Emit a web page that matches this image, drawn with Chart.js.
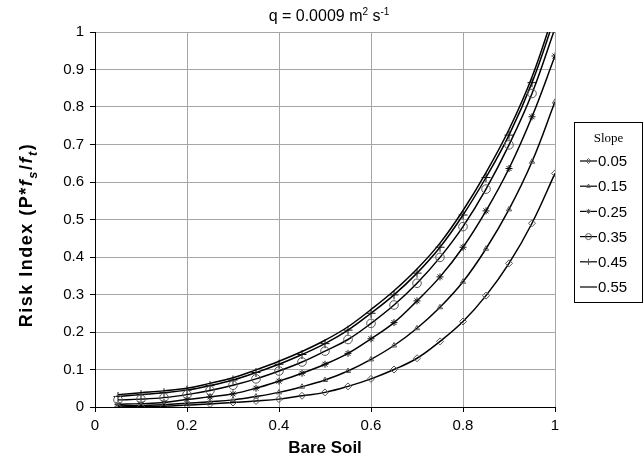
<!DOCTYPE html>
<html>
<head>
<meta charset="utf-8">
<script src="https://cdn.jsdelivr.net/npm/chart.js@4/dist/chart.umd.min.js"></script>
<style>
  html, body { margin: 0; padding: 0; background: #fff; }
  #wrap { width: 644px; height: 470px; }
</style>
</head>
<body>
<div id="wrap"><canvas id="chart1"></canvas></div>
<script>
// bare soil fraction (x)
var bareSoil = [0.05, 0.1, 0.15, 0.2, 0.25, 0.3, 0.35, 0.4, 0.45, 0.5,
                0.55, 0.6, 0.65, 0.7, 0.75, 0.8, 0.85, 0.9, 0.95, 1.0];
var slopes = ['0.05', '0.15', '0.25', '0.35', '0.45', '0.55'];

// risk index per slope
var s005 = [0, 0.001, 0.002, 0.005, 0.008, 0.012, 0.016, 0.021, 0.03, 0.039,
            0.055, 0.075, 0.10, 0.13, 0.175, 0.228, 0.297, 0.383, 0.49, 0.623];
var s015 = [0.003, 0.004, 0.006, 0.010, 0.014, 0.019, 0.028, 0.039, 0.054, 0.072,
            0.096, 0.127, 0.164, 0.21, 0.266, 0.334, 0.422, 0.527, 0.654, 0.814];
var s025 = [0.007, 0.009, 0.012, 0.02, 0.027, 0.035, 0.05, 0.069, 0.09, 0.114,
            0.143, 0.182, 0.225, 0.283, 0.347, 0.426, 0.523, 0.636, 0.774, 0.936];
var s035 = [0.019, 0.021, 0.025, 0.033, 0.044, 0.058, 0.075, 0.096, 0.12, 0.149,
            0.18, 0.223, 0.272, 0.33, 0.399, 0.481, 0.581, 0.699, 0.836, 1.01];
var s045 = [0.028, 0.033, 0.038, 0.045, 0.057, 0.072, 0.092, 0.114, 0.14, 0.169,
            0.205, 0.25, 0.299, 0.357, 0.426, 0.512, 0.612, 0.725, 0.865, 1.04];
var s055 = [0.033, 0.038, 0.043, 0.05, 0.063, 0.078, 0.099, 0.122, 0.148, 0.178,
            0.214, 0.26, 0.31, 0.368, 0.437, 0.524, 0.625, 0.74, 0.88, 1.06];

var yTicks = [0, 0.1, 0.2, 0.3, 0.4, 0.5, 0.6, 0.7, 0.8, 0.9, 1];
var xTicks = [0, 0.2, 0.4, 0.6, 0.8, 1];

var allSeries = [s005, s015, s025, s035, s045, s055];
var markers = ['rectRot', 'triangle', 'star', 'circle', 'cross', false];
var markerSize = [3.5, 3, 3.5, 4.3, 4.5, 0];

function pairs(ys) {
    return ys.map(function(v, i) { return { x: bareSoil[i], y: v }; });
}

var datasets = allSeries.map(function(ys, i) {
    return {
        label: slopes[i],
        data: pairs(ys),
        borderColor: '#000',
        borderWidth: 1.5,
        tension: 0.4,
        pointStyle: markers[i],
        pointRadius: markerSize[i],
        pointBorderColor: i === 4 || i === 2 ? '#111' : '#555',
        pointBackgroundColor: 'rgba(0,0,0,0)',
        pointBorderWidth: 1
    };
});

var FONT = '"Liberation Sans", Arial, sans-serif';

var decor = {
    id: 'decor',
    afterDraw: function(chart) {
        var ctx = chart.ctx;
        var area = chart.chartArea;
        ctx.save();
        ctx.fillStyle = '#000';

        // title with superscripts
        var parts = [['q = 0.0009 m', 0, 16], ['2', -6, 10], [' s', 0, 16], ['-1', -6, 10]];
        var total = 0;
        parts.forEach(function(p) { ctx.font = p[2] + 'px ' + FONT; total += ctx.measureText(p[0]).width; });
        var x = (area.left + area.right) / 2 - total / 2 + 4;
        ctx.textBaseline = 'alphabetic';
        parts.forEach(function(p) {
            ctx.font = p[2] + 'px ' + FONT;
            ctx.fillText(p[0], x, 21 + p[1]);
            x += ctx.measureText(p[0]).width;
        });

        // x axis title
        ctx.font = 'bold 17px ' + FONT;
        ctx.textAlign = 'center';
        ctx.fillText('Bare Soil', (area.left + area.right) / 2, 453);

        // y axis title, rotated, with italic f and subscripts
        var yparts = [['Risk Index (P*', 'bold', 0, 18], ['f', 'bold italic', 0, 18], ['s', 'bold italic', 5, 13],
                      ['/', 'bold', 0, 18], ['f', 'bold italic', 0, 18], ['t', 'bold italic', 5, 13], [')', 'bold', 0, 18]];
        ctx.textAlign = 'left';
        ctx.letterSpacing = '1.5px';
        var yw = 0;
        yparts.forEach(function(p) { ctx.font = p[1] + ' ' + p[3] + 'px ' + FONT; yw += ctx.measureText(p[0]).width; });
        ctx.translate(32, 235);
        ctx.rotate(-Math.PI / 2);
        var px = -yw / 2;
        yparts.forEach(function(p) {
            ctx.font = p[1] + ' ' + p[3] + 'px ' + FONT;
            ctx.fillText(p[0], px, p[2]);
            px += ctx.measureText(p[0]).width;
        });
        ctx.setTransform(1, 0, 0, 1, 0, 0);
        ctx.letterSpacing = '0px';

        // legend box
        var bx = 574, by = 122, bw = 69, bh = 181;
        ctx.fillStyle = '#fff';
        ctx.fillRect(bx, by, bw, bh);
        ctx.strokeStyle = '#000';
        ctx.lineWidth = 1;
        ctx.strokeRect(bx + 0.5, by + 0.5, bw - 1, bh - 1);
        ctx.fillStyle = '#000';
        ctx.font = '13px "Liberation Serif", "Times New Roman", serif';
        ctx.textAlign = 'center';
        ctx.textBaseline = 'middle';
        ctx.fillText('Slope', bx + bw / 2, 139);
        ctx.textAlign = 'left';
        slopes.forEach(function(s, i) {
            var ly = 161 + i * 25.2;
            ctx.strokeStyle = '#000';
            ctx.lineWidth = 1.2;
            ctx.beginPath();
            ctx.moveTo(580, ly);
            ctx.lineTo(597, ly);
            ctx.stroke();
            if (markers[i]) {
                ctx.strokeStyle = '#555';
                ctx.fillStyle = 'rgba(0,0,0,0)';
                ctx.lineWidth = 1;
                Chart.helpers.drawPoint(ctx, { pointStyle: markers[i], radius: markerSize[i] * 0.7, rotation: 0, borderWidth: 1 }, 588.5, ly);
            }
            ctx.fillStyle = '#000';
            ctx.font = '15px ' + FONT;
            ctx.fillText(s, 598, ly + 1);
        });
        ctx.restore();
    }
};

new Chart(document.getElementById('chart1').getContext('2d'), {
    type: 'line',
    data: { datasets: datasets },
    options: {
        responsive: true,
        maintainAspectRatio: false,
        animation: false,
        layout: { padding: { top: 32, right: 89, left: 0, bottom: 0 } },
        plugins: { legend: { display: false }, tooltip: { enabled: false } },
        scales: {
            x: {
                type: 'linear',
                min: 0,
                max: 1,
                afterBuildTicks: function(scale) { scale.ticks = xTicks.map(function(v) { return { value: v }; }); },
                afterFit: function(scale) { scale.height = 63; },
                grid: { color: '#a6a6a6', tickColor: '#000', tickLength: 5 },
                border: { color: '#000', width: 1 },
                ticks: {
                    color: '#000', padding: 5, maxRotation: 0,
                    font: { family: FONT, size: 15 },
                    callback: function(v) { return String(Math.round(v * 10) / 10); }
                }
            },
            y: {
                min: 0,
                max: 1,
                afterBuildTicks: function(scale) { scale.ticks = yTicks.map(function(v) { return { value: v }; }); },
                afterFit: function(scale) { scale.width = 95; },
                grid: { color: '#a6a6a6', tickColor: '#000', tickLength: 5 },
                border: { color: '#000', width: 1 },
                ticks: {
                    color: '#000', padding: 6,
                    font: { family: FONT, size: 15 },
                    callback: function(v) { return String(Math.round(v * 10) / 10); }
                }
            }
        }
    },
    plugins: [decor]
});
</script>
</body>
</html>
